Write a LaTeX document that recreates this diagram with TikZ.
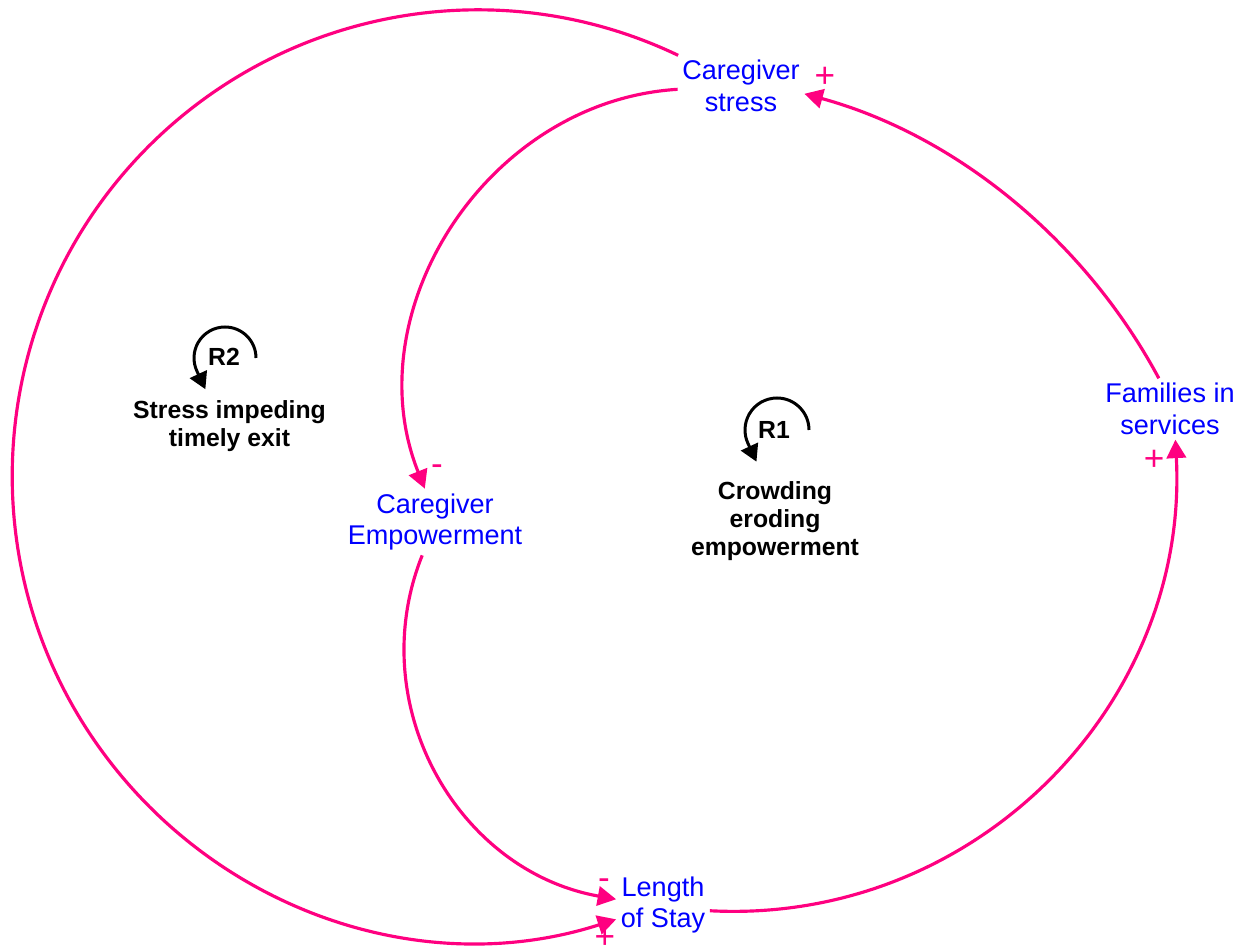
\documentclass[tikz,border=0pt]{standalone}
\usepackage{fontspec}
\setmainfont{Liberation Sans}
\usetikzlibrary{arrows.meta}
\definecolor{linkpink}{RGB}{255,0,128}
\definecolor{varblue}{RGB}{0,0,255}

\begin{document}
\begin{tikzpicture}[x=0.02cm,y=0.02cm,
  var/.style={text=varblue, align=center, font=\fontsize{15.4}{18.2}\selectfont, inner sep=2.5pt},
  link/.style={draw=linkpink, line width=1.8pt, -{Triangle[length=10.5pt,width=11pt]}},
  sign/.style={text=linkpink, font=\fontsize{20}{21}\selectfont, inner sep=0pt},
  loopname/.style={font=\bfseries\fontsize{14.1}{16}\selectfont, align=center, inner sep=0pt},
  looparrow/.style={draw=black, line width=1.7pt, -{Triangle[length=9.5pt,width=10.5pt]}}
]
\useasboundingbox (0,0) rectangle (1244,950);

% variables
\node[var] (stress) at (741,864) {Caregiver\\stress};
\node[var] (fam)    at (1170,541) {Families in\\services};
\node[var] (emp)    at (435,428) {Caregiver\\Empowerment};
\node[var] (los)    at (663,45) {Length\\of Stay};

% points on the outer circle (centre (478,474), radius 466)
\coordinate (w1) at (126.3,779.7);
\coordinate (w2) at (89.0,217.5);

% causal links
\draw[link] (stress.154) to[out=154.4,in=49,looseness=0.95] (w1)
                         to[out=229,in=123.4,looseness=0.948] (w2)
                         to[out=303.4,in=197.8,looseness=0.955] (los.197);
\draw[link] (stress.183) to[out=183.5,in=111.8,looseness=1.035] (emp.107);
\draw[link] (emp.249) to[out=248.2,in=169.9,looseness=1.043] (los.173);
\draw[link] (los.-7) to[out=357,in=273,looseness=1.023] (fam.-80);
\draw[link] (fam.110) to[out=118.2,in=344.7,looseness=0.884] (stress.-7);

% polarities
\node[sign] (s1) at (825,873) {+};
\node[sign] (s2) at (1154,490) {+};
\node[sign] (s3) at (605,12) {+};
\node[sign] (s4) at (437,480) {-};
\node[sign] (s5) at (604,66) {-};

% loop R2
\coordinate (r2c) at (225,592);
\draw[looparrow] ([shift={(0:31)}]r2c) arc[start angle=0,end angle=205,radius=31] -- ++(295:20);
\node[loopname] (r2) at (224,593) {R2};
\node[loopname] (r2cap) at (229.5,524) {Stress impeding\\timely exit};

% loop R1
\coordinate (r1c) at (777,520);
\draw[looparrow] ([shift={(0:32)}]r1c) arc[start angle=0,end angle=205,radius=32] -- ++(295:20);
\node[loopname] (r1) at (774,520) {R1};
\node[loopname] (r1cap) at (775,429) {Crowding\\eroding\\empowerment};
\end{tikzpicture}
\end{document}
